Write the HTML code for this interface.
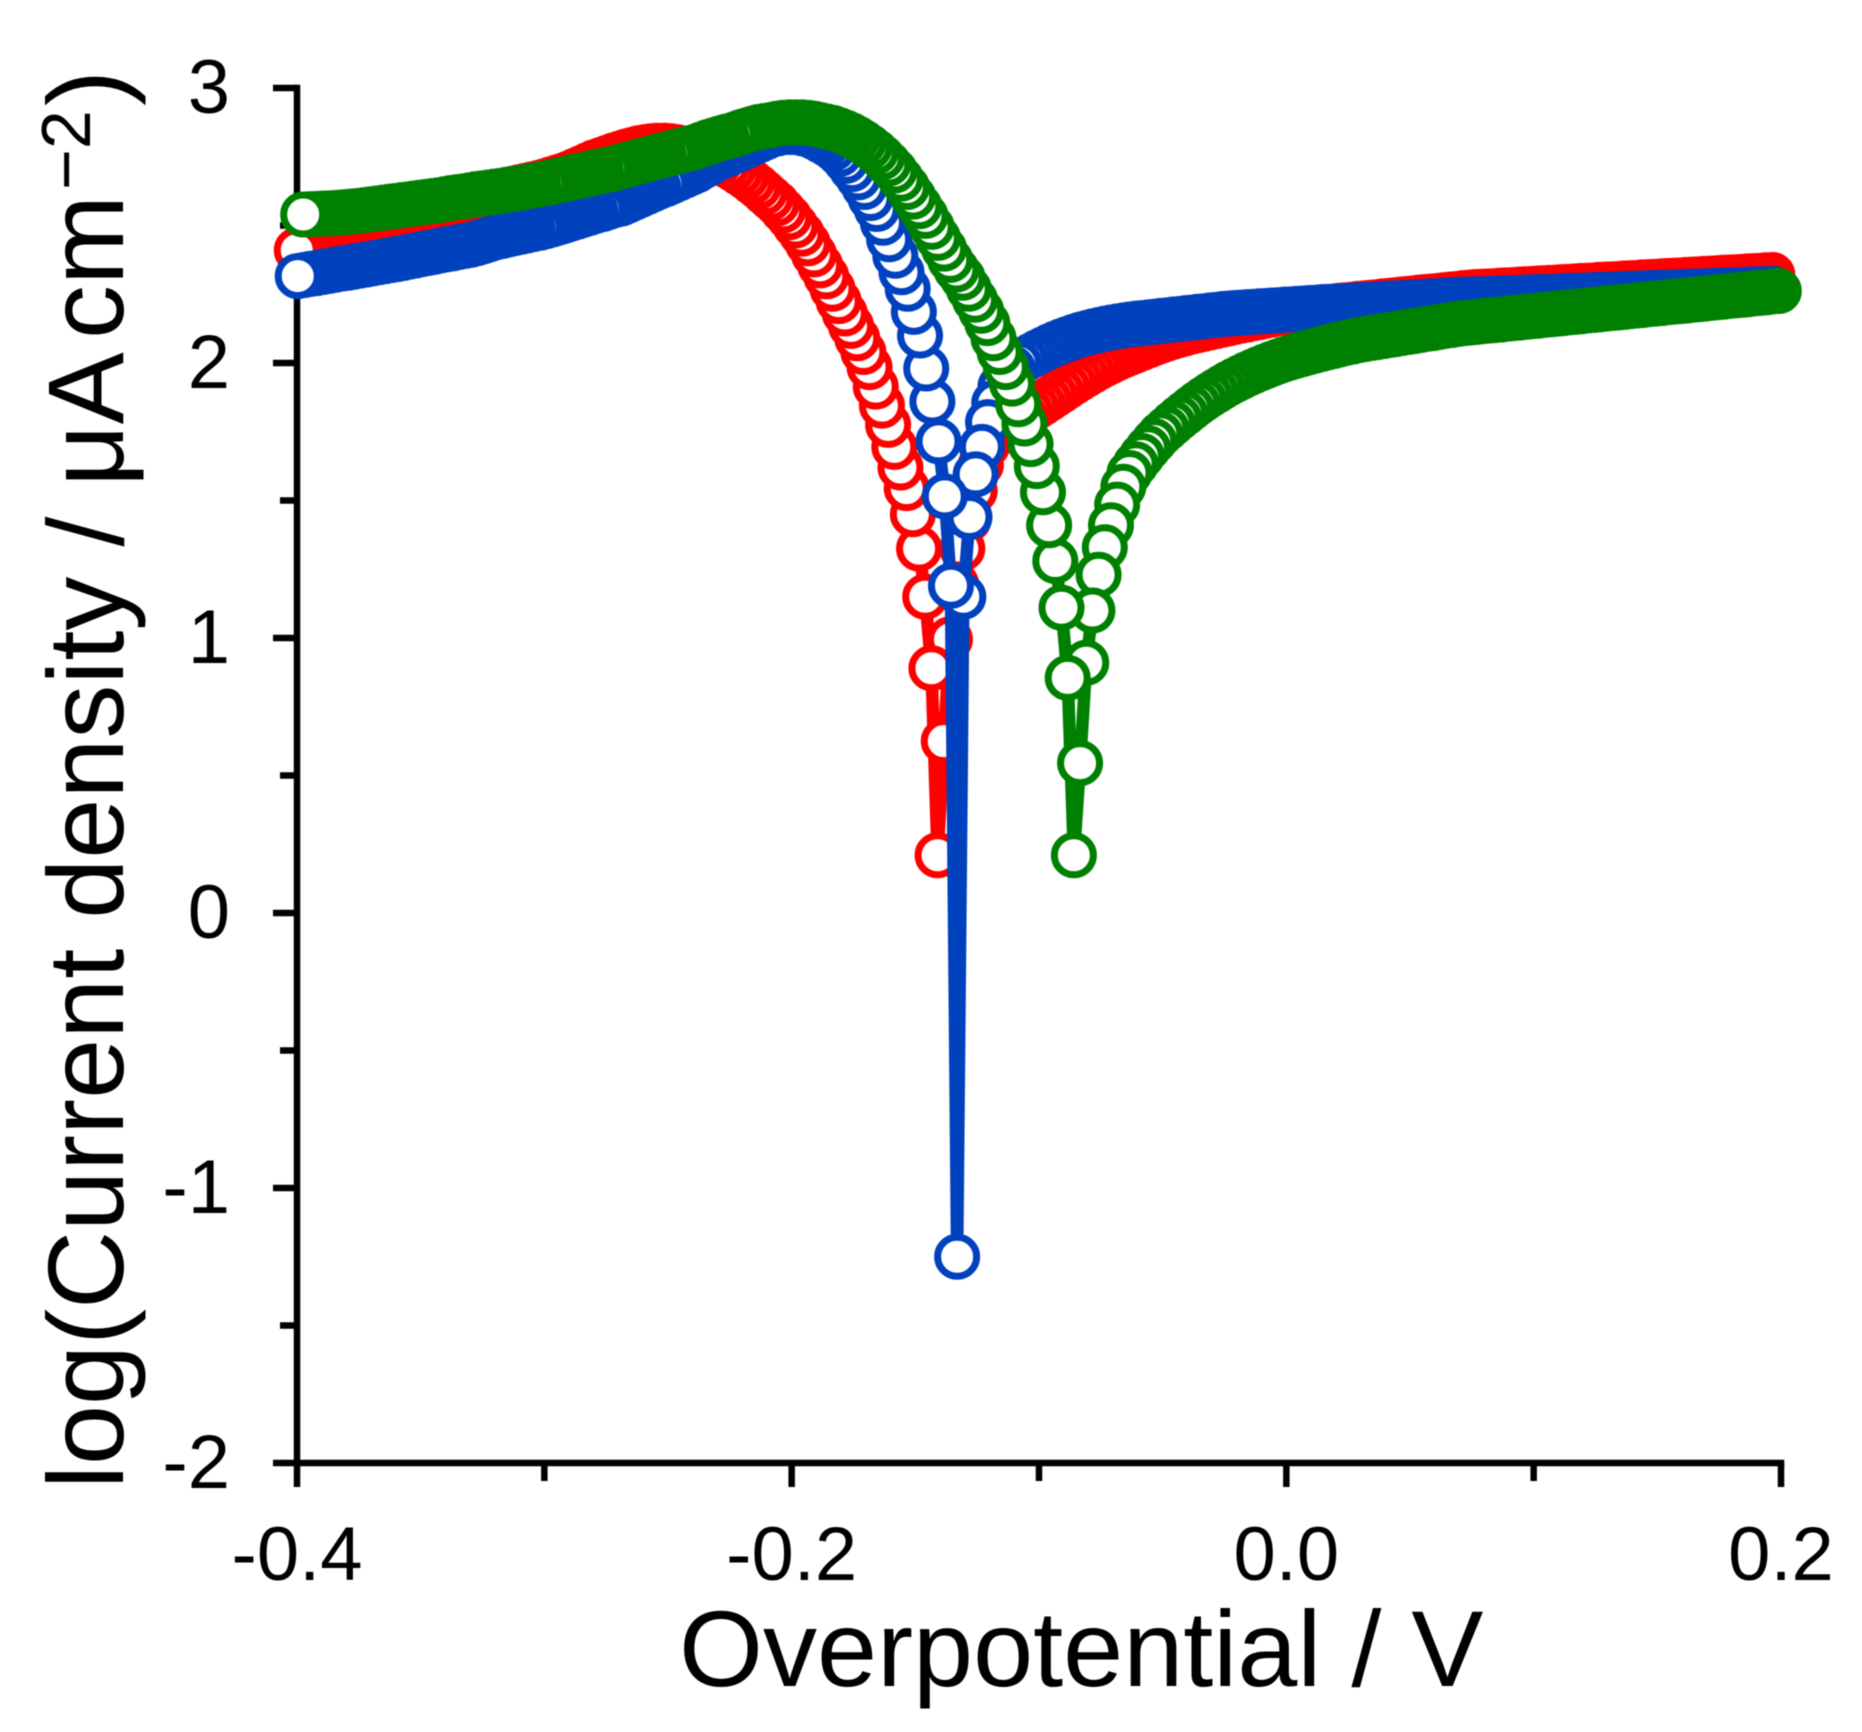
<!DOCTYPE html>
<html lang="en">
<head>
<meta charset="utf-8">
<title>Tafel plot</title>
<style>
  html, body { margin: 0; padding: 0; background: #fff; }
  body { width: 1862px; height: 1732px; overflow: hidden; }
  svg { display: block; font-family: "Liberation Sans", sans-serif; filter: blur(0.6px); }
</style>
</head>
<body>
<svg id="chart" xmlns="http://www.w3.org/2000/svg" width="1862" height="1732" viewBox="0 0 1862 1732">
  <rect x="0" y="0" width="1862" height="1732" fill="#ffffff"/>
  <g id="axes"></g>
  <g id="series"></g>
  <text x="679" y="1686" font-size="108" fill="#000">Overpotential / V</text>
  <text transform="translate(123,1489) rotate(-90)" font-size="108" fill="#000"><tspan x="0" y="0">log(Current density / μA</tspan><tspan x="1150" y="0">cm</tspan><tspan x="1299" y="-33" font-size="70">−2</tspan><tspan x="1383" y="0">)</tspan></text>
</svg>
<script>
const xTickValues = [-0.4, -0.3, -0.2, -0.1, 0.0, 0.1, 0.2];
const xTickLabels = ["-0.4", "", "-0.2", "", "0.0", "", "0.2"];
const yTickValues = [3, 2.5, 2, 1.5, 1, 0.5, 0, -0.5, -1, -1.5, -2];
const yTickLabels = ["3", "", "2", "", "1", "", "0", "", "-1", "", "-2"];
const seriesNames = ["red", "blue", "green"];
const seriesColors = ["#ff0000", "#0041be", "#008000"];
const potentialOffsetsMv = [-1, -0.6, 1.6];

const potentialsMv = [
197.5,195,192.5,190,187.5,185,182.5,180,177.5,175,
172.5,170,167.5,165,162.5,160,157.5,155,152.5,150,
147.5,145,142.5,140,137.5,135,132.5,130,127.5,125,
122.5,120,117.5,115,112.5,110,107.5,105,102.5,100,
97.5,95,92.5,90,87.5,85,82.5,80,77.5,75,
72.5,70,67.5,65,62.5,60,57.5,55,52.5,50,
47.5,45,42.5,40,37.5,35,32.5,30,27.5,25,
22.5,20,17.5,15,12.5,10,7.5,5,2.5,0,
-2.5,-5,-7.5,-10,-12.5,-15,-17.5,-20,-22.5,-25,
-27.5,-30,-32.5,-35,-37.5,-40,-42.5,-45,-47.5,-50,
-52.5,-55,-57.5,-60,-62.5,-65,-67.5,-70,-72.5,-75,
-77.5,-80,-82.5,-85,-87.5,-90,-92.5,-95,-97.5,-100,
-102.5,-105,-107.5,-110,-112.5,-115,-117.5,-120,-122.5,-125,
-127.5,-130,-132.5,-135,-137.5,-140,-142.5,-145,-147.5,-150,
-152.5,-155,-157.5,-160,-162.5,-165,-167.5,-170,-172.5,-175,
-177.5,-180,-182.5,-185,-187.5,-190,-192.5,-195,-197.5,-200,
-202.5,-205,-207.5,-210,-212.5,-215,-217.5,-220,-222.5,-225,
-227.9,-230.4,-232.9,-235.4,-237.9,-240.4,-242.9,-245.4,-247.9,-250.4,
-253.3,-255.8,-258.3,-260.8,-263.3,-265.8,-268.3,-270.8,-273.3,-275.8,
-278.7,-281.2,-283.7,-286.2,-288.7,-291.2,-293.7,-296.2,-298.7,-301.2,
-304.1,-306.6,-309.1,-311.6,-314.1,-316.6,-319.1,-321.6,-324.1,-326.6,
-329.1,-331.6,-334.1,-336.6,-339.1,-341.6,-344.1,-346.6,-349.1,-351.6,
-354.1,-356.6,-359.1,-361.6,-364.1,-366.6,-369.1,-371.6,-374.1,-376.6,
-379.1,-381.6,-384.1,-386.6,-389.1,-391.6,-394.1,-396.6,-399.1
];

const redLogCurrent = [
2.320,2.319,2.317,2.316,2.315,2.313,2.312,2.311,2.310,2.308,
2.307,2.306,2.304,2.303,2.302,2.300,2.299,2.298,2.297,2.295,
2.294,2.293,2.291,2.290,2.289,2.287,2.286,2.285,2.284,2.282,
2.281,2.280,2.278,2.277,2.276,2.274,2.273,2.272,2.271,2.269,
2.268,2.267,2.265,2.264,2.263,2.261,2.260,2.259,2.258,2.256,
2.254,2.251,2.249,2.247,2.244,2.242,2.240,2.238,2.235,2.233,
2.231,2.228,2.226,2.224,2.221,2.219,2.217,2.215,2.212,2.210,
2.208,2.205,2.203,2.201,2.198,2.196,2.194,2.191,2.188,2.185,
2.181,2.176,2.172,2.167,2.163,2.158,2.154,2.149,2.144,2.139,
2.134,2.129,2.124,2.119,2.114,2.108,2.102,2.095,2.088,2.080,
2.072,2.063,2.054,2.045,2.036,2.027,2.017,2.006,1.995,1.983,
1.970,1.957,1.943,1.929,1.914,1.899,1.884,1.869,1.854,1.840,
1.826,1.812,1.798,1.784,1.769,1.752,1.733,1.70,1.63,1.535,
1.43,1.325,1.195,0.995,0.625,0.21,0.89,1.15,1.325,1.45,
1.545,1.62,1.695,1.775,1.845,1.914,1.985,2.04,2.09,2.135,
2.18,2.225,2.27,2.315,2.355,2.395,2.435,2.47,2.50,2.53,
2.555,2.58,2.60,2.62,2.64,2.658,2.675,2.69,2.705,2.718,
2.73,2.74,2.75,2.76,2.768,2.775,2.78,2.785,2.788,2.79,
2.79,2.788,2.785,2.781,2.775,2.769,2.762,2.755,2.747,2.739,
2.73,2.72,2.71,2.70,2.69,2.682,2.675,2.668,2.661,2.655,
2.649,2.644,2.639,2.634,2.629,2.624,2.619,2.614,2.609,2.604,
2.598,2.59,2.583,2.577,2.57,2.563,2.557,2.55,2.543,2.537,
2.53,2.523,2.517,2.51,2.503,2.497,2.49,2.483,2.477,2.47,
2.463,2.457,2.45,2.443,2.437,2.43,2.423,2.417,2.41
];

const blueLogCurrent = [
2.270,2.269,2.268,2.268,2.267,2.266,2.265,2.264,2.264,2.263,
2.262,2.261,2.260,2.260,2.259,2.258,2.257,2.256,2.256,2.255,
2.254,2.253,2.252,2.252,2.251,2.250,2.249,2.248,2.248,2.247,
2.246,2.245,2.244,2.244,2.243,2.242,2.241,2.240,2.240,2.239,
2.238,2.237,2.236,2.236,2.235,2.234,2.233,2.232,2.232,2.231,
2.230,2.229,2.228,2.227,2.225,2.224,2.223,2.222,2.221,2.219,
2.218,2.217,2.216,2.215,2.213,2.212,2.211,2.210,2.209,2.207,
2.206,2.205,2.204,2.203,2.201,2.200,2.198,2.197,2.195,2.194,
2.192,2.191,2.189,2.188,2.186,2.185,2.183,2.182,2.180,2.178,
2.175,2.173,2.170,2.168,2.165,2.163,2.160,2.158,2.155,2.153,
2.150,2.148,2.145,2.143,2.140,2.137,2.133,2.129,2.125,2.120,
2.115,2.109,2.103,2.096,2.088,2.080,2.071,2.061,2.050,2.039,
2.027,2.014,2.000,1.980,1.955,1.915,1.855,1.785,1.695,1.595,
1.44,1.15,-1.25,1.19,1.515,1.715,1.86,1.98,2.10,2.186,
2.27,2.33,2.39,2.45,2.51,2.56,2.60,2.64,2.675,2.705,
2.735,2.76,2.78,2.795,2.808,2.82,2.83,2.835,2.84,2.84,
2.84,2.835,2.83,2.82,2.81,2.80,2.79,2.78,2.77,2.76,
2.75,2.74,2.726,2.714,2.70,2.69,2.68,2.67,2.66,2.65,
2.64,2.63,2.62,2.61,2.60,2.59,2.58,2.575,2.568,2.56,
2.553,2.546,2.539,2.532,2.525,2.518,2.511,2.504,2.498,2.492,
2.487,2.482,2.477,2.472,2.467,2.462,2.457,2.45,2.443,2.436,
2.43,2.426,2.422,2.417,2.413,2.409,2.404,2.40,2.396,2.391,
2.387,2.382,2.378,2.374,2.37,2.366,2.362,2.358,2.354,2.35,
2.346,2.343,2.339,2.335,2.331,2.327,2.324,2.32,2.316
];

const greenLogCurrent = [
2.262,2.260,2.257,2.255,2.253,2.250,2.248,2.246,2.244,2.241,
2.239,2.237,2.234,2.232,2.230,2.227,2.225,2.223,2.221,2.218,
2.216,2.214,2.211,2.209,2.207,2.204,2.202,2.200,2.198,2.195,
2.193,2.191,2.188,2.186,2.184,2.181,2.179,2.177,2.175,2.172,
2.170,2.168,2.165,2.163,2.161,2.158,2.156,2.154,2.152,2.149,
2.147,2.145,2.142,2.138,2.135,2.131,2.127,2.124,2.120,2.116,
2.113,2.109,2.105,2.102,2.098,2.094,2.091,2.087,2.083,2.078,
2.073,2.068,2.062,2.057,2.051,2.045,2.039,2.033,2.027,2.02,
2.013,2.005,1.997,1.988,1.979,1.969,1.959,1.948,1.937,1.925,
1.912,1.898,1.884,1.869,1.853,1.836,1.818,1.80,1.781,1.761,
1.741,1.716,1.69,1.662,1.632,1.60,1.55,1.485,1.41,1.33,
1.23,1.10,0.91,0.545,0.21,0.855,1.11,1.28,1.41,1.53,
1.625,1.705,1.78,1.85,1.925,1.985,2.04,2.09,2.145,2.19,
2.23,2.27,2.31,2.34,2.375,2.416,2.455,2.495,2.535,2.57,
2.605,2.64,2.67,2.70,2.725,2.748,2.768,2.786,2.802,2.816,
2.828,2.838,2.847,2.855,2.86,2.865,2.87,2.873,2.875,2.875,
2.875,2.873,2.87,2.865,2.862,2.858,2.852,2.845,2.838,2.83,
2.823,2.817,2.81,2.803,2.795,2.787,2.78,2.775,2.769,2.763,
2.757,2.751,2.745,2.739,2.733,2.727,2.721,2.715,2.708,2.703,
2.698,2.693,2.688,2.683,2.678,2.673,2.668,2.663,2.658,2.653,
2.649,2.645,2.641,2.637,2.633,2.63,2.626,2.623,2.62,2.617,
2.614,2.61,2.606,2.603,2.60,2.596,2.592,2.589,2.586,2.583,
2.58,2.577,2.574,2.571,2.568,2.565,2.562,2.559,2.556,2.553,
2.551,2.549,2.547,2.545,2.544,2.543,2.542,2.541,2.54
];

const seriesValues = [redLogCurrent, blueLogCurrent, greenLogCurrent];

const SVG_NS = "http://www.w3.org/2000/svg";
const X_MIN = -0.4, X_MAX = 0.2, X_LEFT = 297, X_RIGHT = 1781;
const Y_MIN = -2, Y_MAX = 3, Y_BOTTOM = 1463, Y_TOP = 88;

function xScale(v) { return X_LEFT + (v - X_MIN) * (X_RIGHT - X_LEFT) / (X_MAX - X_MIN); }
function yScale(v) { return Y_BOTTOM - (v - Y_MIN) * (Y_BOTTOM - Y_TOP) / (Y_MAX - Y_MIN); }

function svgEl(tag, attrs) {
  const el = document.createElementNS(SVG_NS, tag);
  for (const k in attrs) el.setAttribute(k, attrs[k]);
  return el;
}

const axes = document.getElementById("axes");
const AXIS_W = 6.5;

const yAxisLine = svgEl("line", { x1: X_LEFT, y1: Y_TOP - AXIS_W / 2, x2: X_LEFT, y2: Y_BOTTOM, stroke: "#000", "stroke-width": AXIS_W });


axes.appendChild(yAxisLine);

const xAxisLine = svgEl("line", { x1: X_LEFT, y1: Y_BOTTOM, x2: X_RIGHT + AXIS_W / 2, y2: Y_BOTTOM, stroke: "#000", "stroke-width": AXIS_W });


axes.appendChild(xAxisLine);

yTickValues.forEach(function (v, i) {
  const major = yTickLabels[i] !== "";
  const y = yScale(v);
  const tick = svgEl("line", { x1: X_LEFT - (major ? 24 : 17), y1: y, x2: X_LEFT, y2: y, stroke: "#000", "stroke-width": AXIS_W });
  
  
  axes.appendChild(tick);
  if (major) {
    const label = svgEl("text", { x: 230, y: y + 25, "text-anchor": "end", "font-size": 76, fill: "#000" });
    label.textContent = yTickLabels[i];
    
    
    axes.appendChild(label);
  }
});

xTickValues.forEach(function (v, i) {
  const major = xTickLabels[i] !== "";
  const x = xScale(v);
  const tick = svgEl("line", { x1: x, y1: Y_BOTTOM, x2: x, y2: Y_BOTTOM + (major ? 24 : 18), stroke: "#000", "stroke-width": AXIS_W });
  
  
  axes.appendChild(tick);
  if (major) {
    const label = svgEl("text", { x: x, y: 1580, "text-anchor": "middle", "font-size": 76, fill: "#000" });
    label.textContent = xTickLabels[i];
    
    
    axes.appendChild(label);
  }
});

const seriesRoot = document.getElementById("series");
seriesNames.forEach(function (name, s) {
  const values = seriesValues[s];
  const color = seriesColors[s];
  const group = svgEl("g", {});
  
  
  seriesRoot.appendChild(group);

  const pts = potentialsMv.map(function (mv, i) {
    return [xScale((mv + potentialOffsetsMv[s]) / 1000), yScale(values[i])];
  });

  const line = svgEl("polyline", {
    points: pts.map(function (p) { return p[0].toFixed(2) + "," + p[1].toFixed(2); }).join(" "),
    fill: "none", stroke: color, "stroke-width": 12.5, "stroke-linejoin": "round"
  });
  
  
  group.appendChild(line);

  pts.forEach(function (p) {
    const marker = svgEl("circle", { cx: p[0].toFixed(2), cy: p[1].toFixed(2), r: 19.5, fill: "#ffffff", stroke: color, "stroke-width": 7 });
    
    
    group.appendChild(marker);
  });
});
</script>
</body>
</html>
